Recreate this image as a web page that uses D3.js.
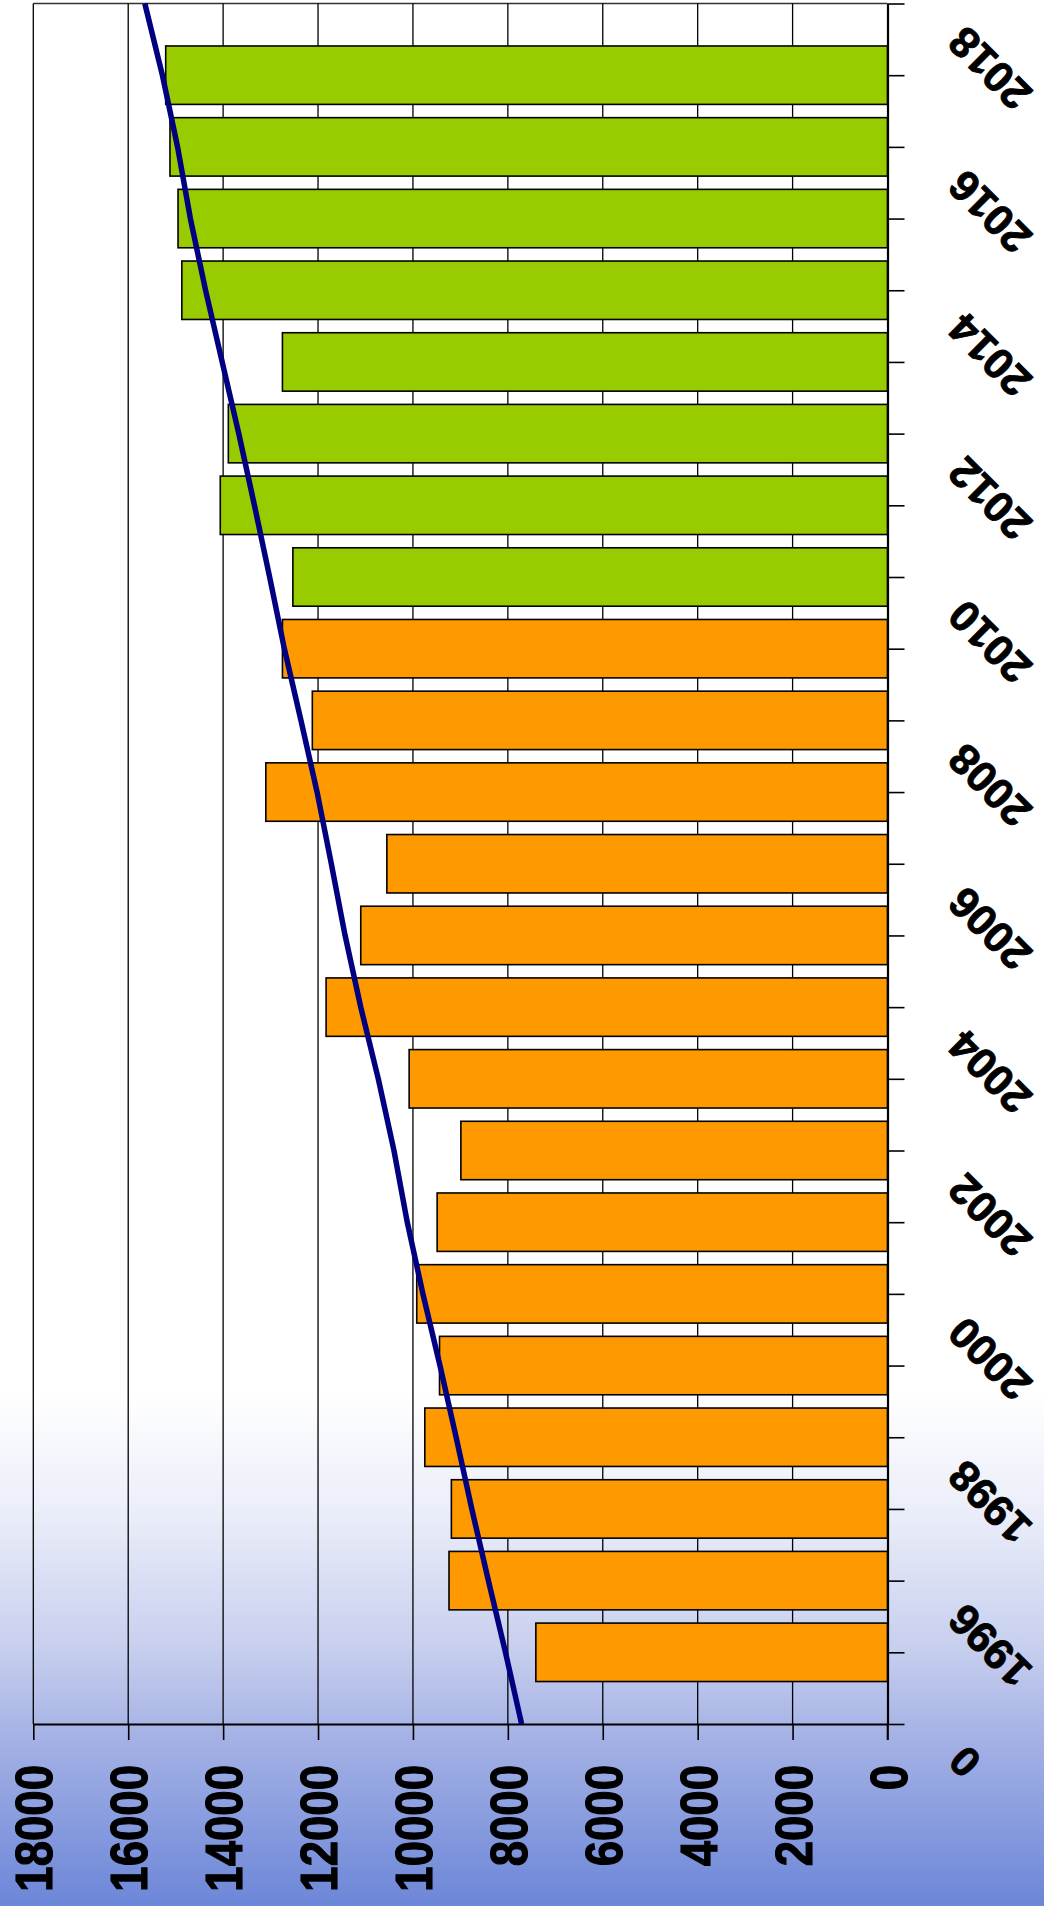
<!DOCTYPE html>
<html><head><meta charset="utf-8">
<script src="https://cdn.jsdelivr.net/npm/d3@7"></script>
<style>
html,body{margin:0;padding:0;background:#fff;}
svg{display:block;}
text{font-family:"Liberation Sans",Arial,sans-serif;font-weight:bold;fill:#000;}
</style></head>
<body>
<script>
// ---- data ----
const years = [1996,1997,1998,1999,2000,2001,2002,2003,2004,2005,2006,2007,2008,2009,2010,2011,2012,2013,2014,2015,2016,2017,2018];
const values = [7410,9240,9190,9750,9440,9920,9490,8990,10080,11830,11100,10550,13100,12120,12750,12530,14060,13890,12750,14870,14950,15120,15210];
const firstGreenYear = 2011;
const trendYears = [1995,1996,1997,1998,1999,2000,2001,2002,2003,2004,2005,2006,2007,2008,2009,2010,2011,2012,2013,2014,2015,2016,2017,2018,2019];
const trendValues = [7710,8050,8410,8760,9090,9430,9790,10120,10400,10730,11100,11430,11720,12020,12360,12710,13020,13340,13670,14020,14370,14690,14960,15280,15650];
const valueTicks = [0,2000,4000,6000,8000,10000,12000,14000,16000,18000];
const yearTicks = d3.range(1995, 2020);
const yearLabels = [1996,1998,2000,2002,2004,2006,2008,2010,2012,2014,2016,2018];
const strayLabel = "0";

// ---- layout ----
const W = 1044, H = 1906;
const svg = d3.select("body").append("svg").attr("width", W).attr("height", H);

const defs = svg.append("defs");
const grad = defs.append("linearGradient").attr("id","bg").attr("x1",0).attr("y1",0).attr("x2",0).attr("y2",1);
[[0,"#ffffff"],[0.73,"#ffffff"],[0.79,"#eceffa"],[0.865,"#c7cfee"],[0.905,"#a9b5e6"],[0.945,"#8fa1e0"],[1,"#6c86d8"]]
  .forEach(([o,c]) => grad.append("stop").attr("offset",o).attr("stop-color",c));
svg.append("rect").attr("width",W).attr("height",H).attr("fill","url(#bg)");

const x = d3.scaleLinear().domain([0,18000]).range([887.5, 33.3]);
const y = d3.scaleLinear().domain([2019,1995]).range([3.5, 1724]);
const slot = Math.abs(y(2018) - y(2019));
const barH = slot * 0.815;

// plot top border
svg.append("line").attr("x1", x(18000)).attr("x2", x(0)).attr("y1", y(2019)).attr("y2", y(2019))
  .attr("stroke","#333").attr("stroke-width",1.3);

// gridlines
svg.append("g").selectAll("line").data(valueTicks.filter(d=>d>0)).join("line")
  .attr("x1", d=>x(d)).attr("x2", d=>x(d)).attr("y1", y(2019)).attr("y2", y(1995))
  .attr("stroke","#000").attr("stroke-width",1.3);

// bars
svg.append("g").selectAll("rect").data(years.map((yr,i)=>({yr, v:values[i]}))).join("rect")
  .attr("x", d=>x(d.v)).attr("width", d=>x(0)-x(d.v))
  .attr("y", d=>y(d.yr)-barH/2).attr("height", barH)
  .attr("fill", d=> d.yr >= firstGreenYear ? "#99cc00" : "#ff9900")
  .attr("stroke","#000").attr("stroke-width",1.6);

// value axis (bottom)
const xAxis = d3.axisBottom(x).tickValues(valueTicks).tickSize(16).tickSizeOuter(0).tickFormat(d3.format("d"));
const gx = svg.append("g").attr("transform", `translate(0,${y(1995)})`).call(xAxis);
gx.select(".domain").attr("stroke","#000").attr("stroke-width",2.2);
gx.selectAll(".tick line").attr("stroke","#000").attr("stroke-width",1.6);
gx.selectAll(".tick text")
  .attr("font-size", 49).attr("text-anchor","end")
  .attr("y", null)
  .attr("transform", "translate(0,41) rotate(-90) scale(0.93,1.05)")
  .attr("dy","0.36em")
  .attr("stroke","#000").attr("stroke-width",1.1)
  .style("font-family","'Liberation Sans',Arial,sans-serif").style("font-weight","bold");

// category axis (right)
const yAxis = d3.axisRight(y).tickValues(yearTicks).tickSize(17).tickSizeOuter(0)
  .tickFormat(d => yearLabels.includes(d) ? String(d) : "");
const gy = svg.append("g").attr("transform", `translate(${x(0)},0)`).call(yAxis);
gy.select(".domain").attr("stroke","#000").attr("stroke-width",2.2);
gy.selectAll(".tick line").attr("stroke","#000").attr("stroke-width",1.6);
gy.selectAll(".tick text")
  .attr("x", null)
  .attr("font-size", 43).attr("text-anchor","middle")
  .attr("transform", "translate(102,-7) rotate(-135)")
  .attr("dy","0.36em")
  .attr("stroke","#000").attr("stroke-width",0.9)
  .style("font-family","'Liberation Sans',Arial,sans-serif").style("font-weight","bold");
// extend the 0 tick downward to meet the value axis tick
svg.append("line").attr("x1", x(0)).attr("x2", x(0)).attr("y1", y(1995)).attr("y2", y(1995)+16)
  .attr("stroke","#000").attr("stroke-width",1.6);

// stray label
svg.append("text").attr("font-size", 42).attr("text-anchor","middle").attr("dy","0.36em")
  .attr("stroke","#000").attr("stroke-width",0.8)
  .attr("transform", `translate(${x(0)+77},${y(1995)+38}) rotate(-135)`).text(strayLabel);

// trend line
svg.append("path").datum(trendYears.map((yr,i)=>[yr, trendValues[i]]))
  .attr("d", d3.line().x(d=>x(d[1])).y(d=>y(d[0])))
  .attr("fill","none").attr("stroke","#000080").attr("stroke-width",5.5).attr("stroke-linejoin","round");
</script>
</body></html>
